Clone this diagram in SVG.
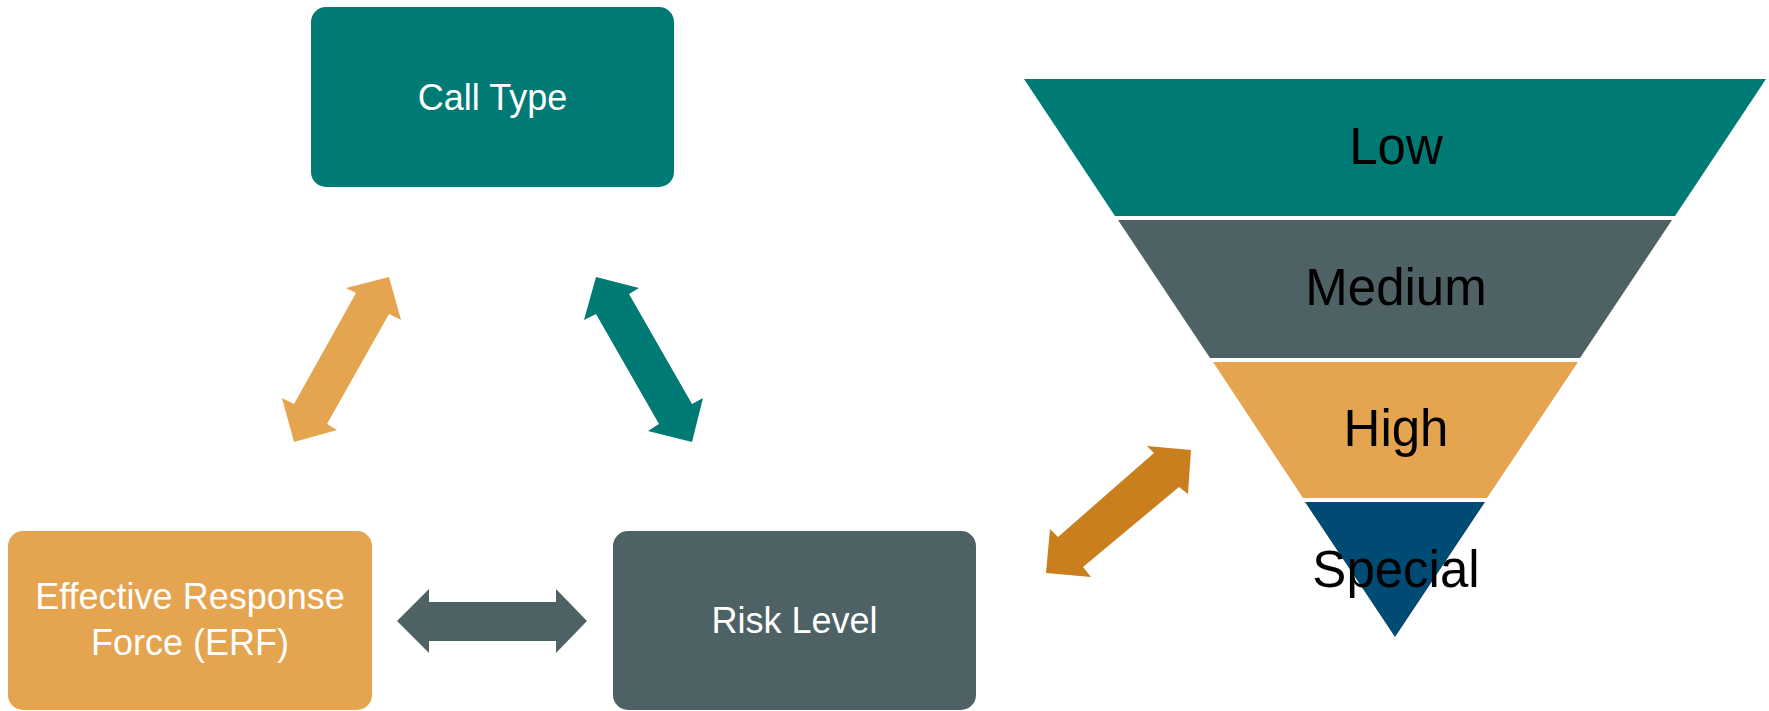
<svg xmlns="http://www.w3.org/2000/svg" width="1769" height="711" viewBox="0 0 1769 711">
<style>
.box-label{font-family:"Liberation Sans",Arial,sans-serif;font-size:36px;fill:#ffffff;text-anchor:middle}
.band-label{font-family:"Liberation Sans",Arial,sans-serif;font-size:51px;fill:#000000;text-anchor:middle}
.teal{fill:#007A74}
.gray{fill:#4E6266}
.orange{fill:#E5A44F}
.dark-orange{fill:#CA7F1F}
.navy{fill:#004B73}
</style>
<rect width="1769" height="711" fill="#ffffff"/>
<g id="connectors">
  <polygon class="orange" points="389,277 401,320 389,314 327,424 337,430 294,442 282,398 294,404 356,293 346,288"/>
  <polygon class="teal" points="596,277 639,288 629,294 692,404 703,398 692,442 648,431 659,424 596,314 584,320"/>
  <polygon class="gray" points="397,621 429,589 429,602 556,602 556,589 587,621 556,653 556,641 429,641 429,653"/>
  <polygon class="dark-orange" points="1191,450 1188,494 1179,487 1083,567 1091,577 1046,573 1050,529 1058,537 1154,453 1147,446"/>
</g>
<g id="node-call-type">
  <rect class="teal" x="311" y="7" width="363" height="180" rx="15" ry="15"/>
  <text class="box-label" x="492.5" y="110">Call Type</text>
</g>
<g id="node-erf">
  <rect class="orange" x="8" y="531" width="364" height="179" rx="15" ry="15"/>
  <text class="box-label" x="190" y="609">Effective Response</text>
  <text class="box-label" x="190" y="655">Force (ERF)</text>
</g>
<g id="node-risk-level">
  <rect class="gray" x="613" y="531" width="363" height="179" rx="15" ry="15"/>
  <text class="box-label" x="794.5" y="633">Risk Level</text>
</g>
<g id="funnel">
  <g id="band-low">
    <polygon class="teal" points="1024,79 1766,79 1675,216 1115,216"/>
    <text class="band-label" x="1396" y="164">Low</text>
  </g>
  <g id="band-medium">
    <polygon class="gray" points="1118,220 1672,220 1580,358 1210,358"/>
    <text class="band-label" x="1396" y="305">Medium</text>
  </g>
  <g id="band-high">
    <polygon class="orange" points="1213,362 1578,362 1487,498 1303,498"/>
    <text class="band-label" x="1396" y="446">High</text>
  </g>
  <g id="band-special">
    <polygon class="navy" points="1305,502 1485,502 1395,637"/>
    <text class="band-label" x="1396" y="587">Special</text>
  </g>
</g>
</svg>
